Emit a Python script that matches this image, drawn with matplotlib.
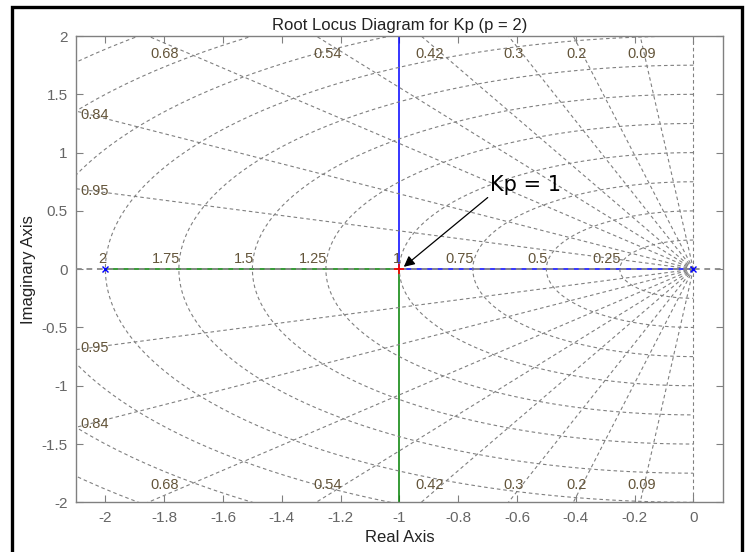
"""Root locus diagram for Kp with damping / natural-frequency grid."""

import numpy as np
import matplotlib.pyplot as plt
from matplotlib.patches import Rectangle

plt.rcParams["font.family"] = ["Liberation Sans", "DejaVu Sans"]

# open-loop poles (p = 2)
pole_re = [-2.0, 0.0]
pole_im = [0.0, 0.0]

# locus branches
blue_re = [0.0, -1.0, -1.0]
blue_im = [0.0, 0.0, 2.2]
green_re = [-2.0, -1.0, -1.0]
green_im = [0.0, 0.0, -2.2]

# closed-loop poles at Kp = 1
kp1_re = [-1.0]
kp1_im = [0.0]

# grid values
zetas = [0.09, 0.2, 0.3, 0.42, 0.54, 0.68, 0.84, 0.95]
wns = [0.25, 0.5, 0.75, 1.0, 1.25, 1.5, 1.75, 2.0, 2.25, 2.5, 2.75]
wn_labels = ["0.25", "0.5", "0.75", "1", "1.25", "1.5", "1.75", "2"]

xticks = [-2, -1.8, -1.6, -1.4, -1.2, -1, -0.8, -0.6, -0.4, -0.2, 0]
xticklabels = ["-2", "-1.8", "-1.6", "-1.4", "-1.2", "-1", "-0.8", "-0.6", "-0.4", "-0.2", "0"]
yticks = [-2, -1.5, -1, -0.5, 0, 0.5, 1, 1.5, 2]
yticklabels = ["-2", "-1.5", "-1", "-0.5", "0", "0.5", "1", "1.5", "2"]

XMIN, XMAX = -2.1, 0.1
YMIN, YMAX = -2.0, 2.0

grid_kw = dict(color="#808080", lw=0.8, ls=(0, (3.2, 2.6)), zorder=3)
label_color = "#64553a"

fig = plt.figure(figsize=(7.48, 5.52), dpi=100)
ax = fig.add_axes([0.1016, 0.0900, 0.8646, 0.8447])

# locus
ax.plot(blue_re, blue_im, color="#0000ff", lw=1.1, zorder=2)
ax.plot(green_re, green_im, color="#008000", lw=1.1, zorder=2)
ax.plot(pole_re, pole_im, "x", color="#0000ff", ms=4, mew=1, zorder=4)
ax.plot(kp1_re, kp1_im, "+", color="#ff0000", ms=7, mew=1.2, zorder=5)

# damping rays
for z in zetas:
    c = np.sqrt(1 - z * z)
    r = np.array([0, 4.0])
    ax.plot(-z * r, c * r, **grid_kw)
    ax.plot(-z * r, -c * r, **grid_kw)
ax.plot([XMIN, XMAX], [0, 0], color="#8a8a8a", lw=1.3, ls=(0, (3.2, 2.6)), zorder=3)
ax.plot([0, 0], [YMIN, YMAX], **grid_kw)

# natural frequency arcs
th = np.linspace(np.pi / 2, 3 * np.pi / 2, 200)
for wn in wns:
    ax.plot(wn * np.cos(th), wn * np.sin(th), **grid_kw)

# damping labels
for z in zetas:
    c = np.sqrt(1 - z * z)
    xt = -1.94 * z / c
    if xt > -2.0:
        for yy in (1.85, -1.85):
            ax.text(xt, yy, f"{z:g}", ha="center", va="center",
                    fontsize=10.5, color=label_color, zorder=6)
    else:
        yl = 2.05 * c / z
        for yy in (yl, -yl):
            ax.text(-2.085, yy, f"{z:g}", ha="left", va="center",
                    fontsize=10.5, color=label_color, zorder=6)

# natural frequency labels
for wn, lab in zip(wns, wn_labels):
    ax.text(-wn + 0.005, 0.03, lab, ha="right", va="bottom",
            fontsize=10.5, color=label_color, zorder=6)

ax.annotate("Kp = 1", xy=(-0.985, 0.02), xytext=(-0.69, 0.72),
            fontsize=15, family="DejaVu Sans", va="center", ha="left",
            arrowprops=dict(arrowstyle="-|>", color="black", lw=0.9,
                            mutation_scale=16, shrinkA=0, shrinkB=0,
                            relpos=(0.0, 0.0)),
            zorder=7)

ax.set_xlim(XMIN, XMAX)
ax.set_ylim(YMIN, YMAX)
ax.set_xticks(xticks)
ax.set_xticklabels(xticklabels)
ax.set_yticks(yticks)
ax.set_yticklabels(yticklabels)
ax.tick_params(direction="in", top=True, right=True, length=5, width=0.8,
               color="#808080", labelcolor="#666666", labelsize=11, pad=6)
for sp in ax.spines.values():
    sp.set_color("#808080")
    sp.set_linewidth(1.0)

ax.set_title("Root Locus Diagram for Kp (p = 2)", fontsize=12, color="#222222", pad=4)
ax.set_xlabel("Real Axis", fontsize=12, color="#222222", labelpad=4)
ax.set_ylabel("Imaginary Axis", fontsize=12, color="#222222", labelpad=4)

# outer frame of the screenshot
fig.patches.append(Rectangle((12 / 748, -0.05), 729.5 / 748, 1.05 - 6.5 / 552,
                             transform=fig.transFigure, fill=False,
                             edgecolor="black", lw=2.4))

fig.savefig("out.png", dpi=100)
